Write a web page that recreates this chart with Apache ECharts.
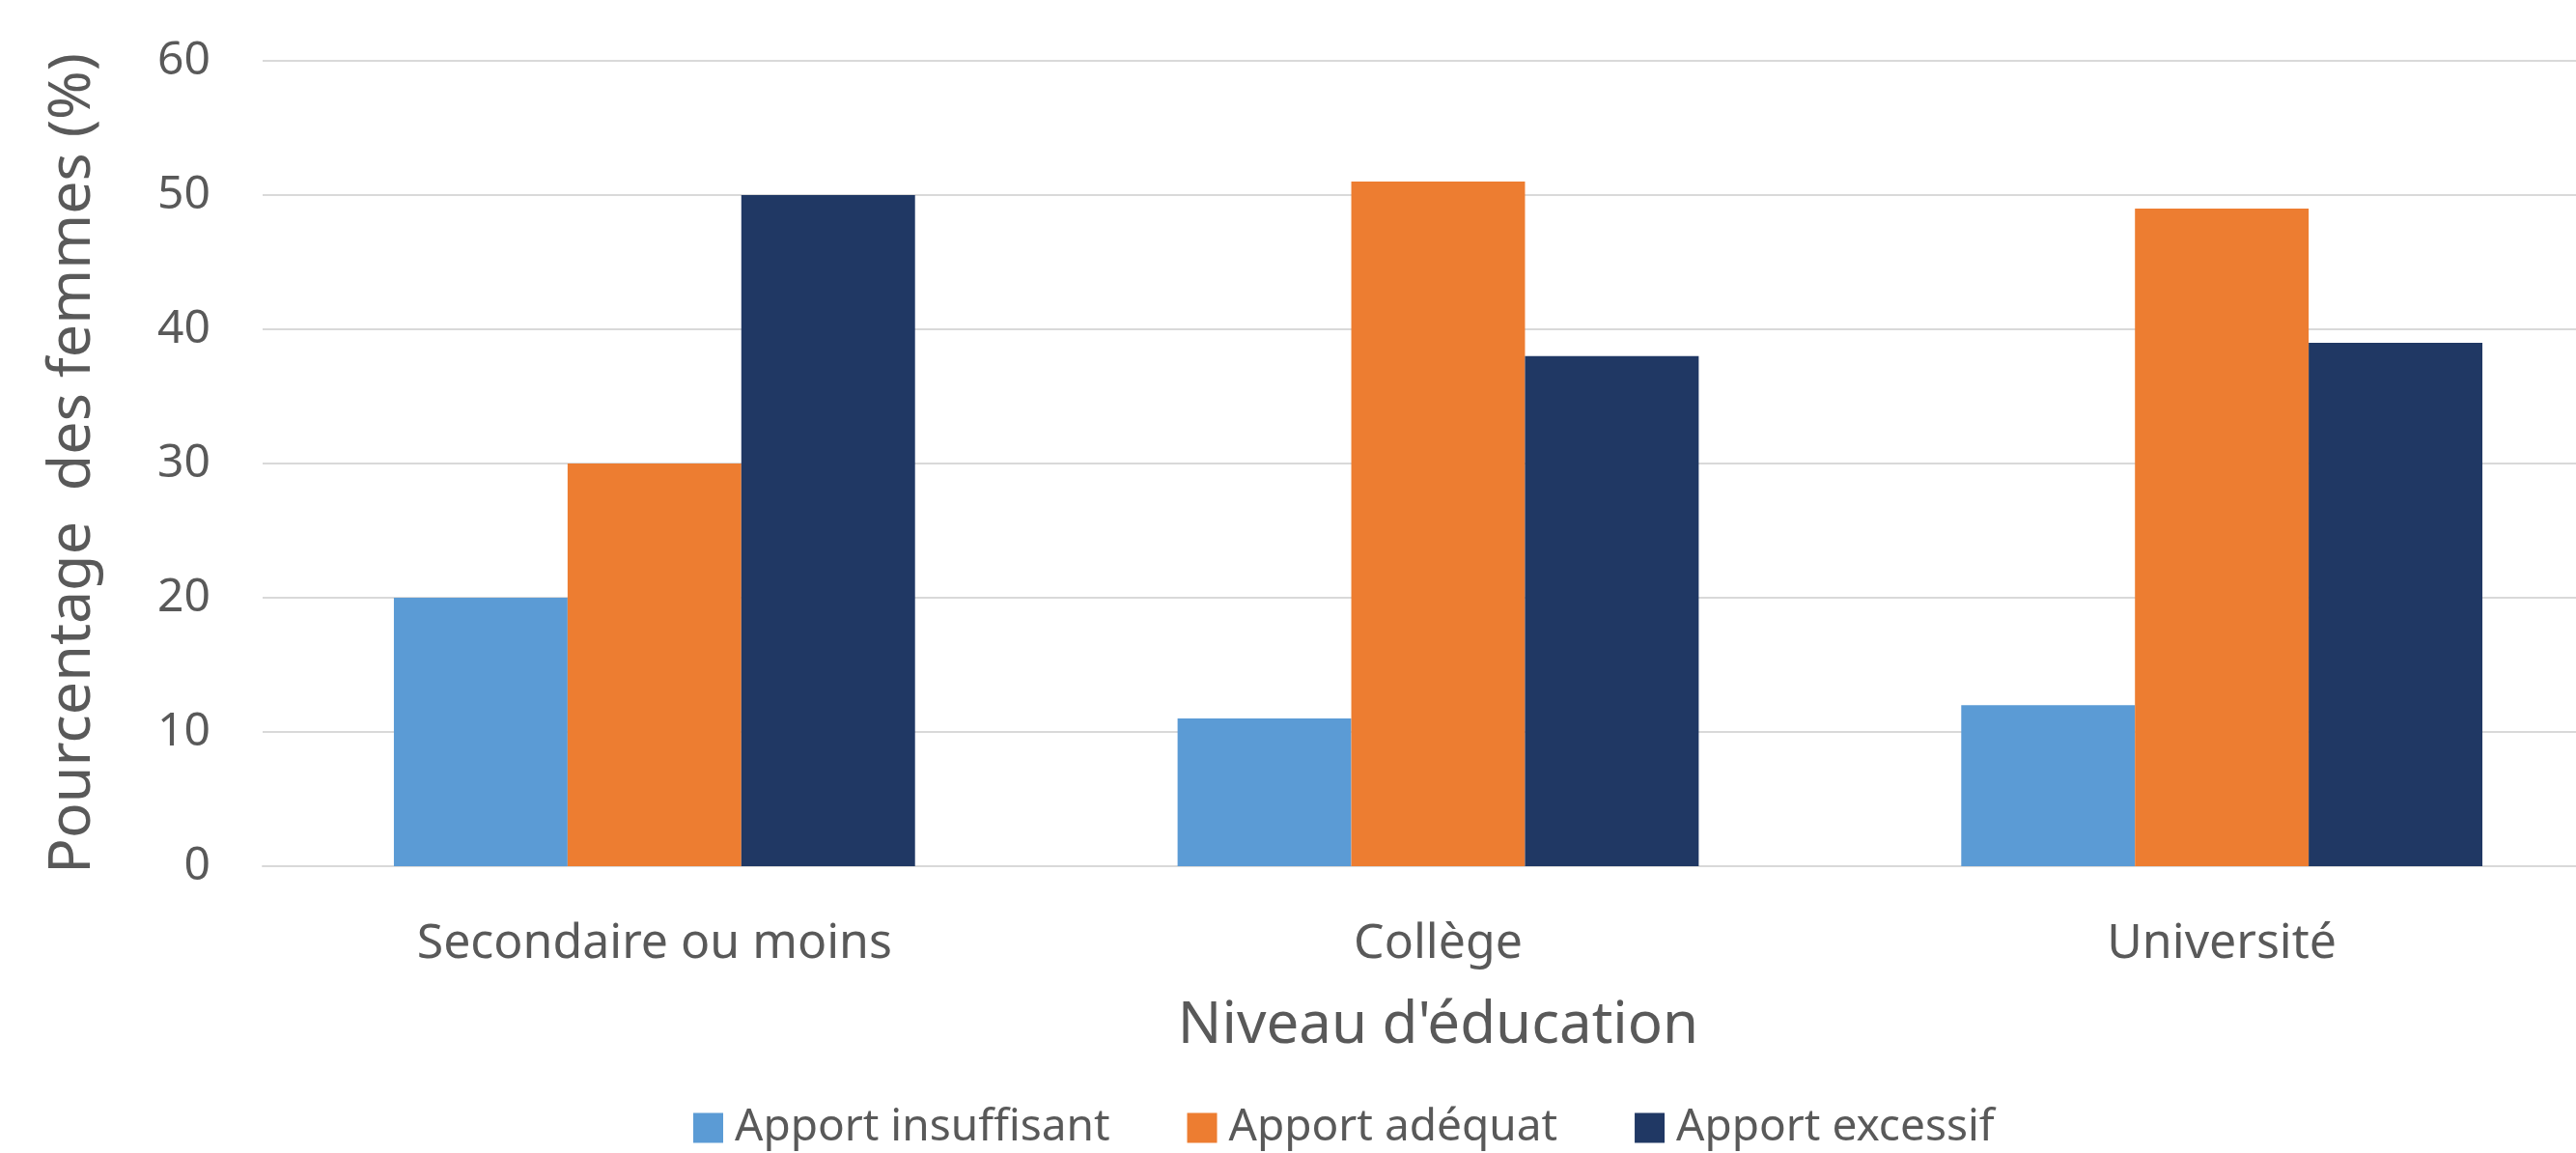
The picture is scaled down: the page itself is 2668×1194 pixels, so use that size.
<!DOCTYPE html>
<html>
<head>
<meta charset="utf-8">
<script src="https://cdn.jsdelivr.net/npm/echarts@6/dist/echarts.min.js"></script>
<style>
  html, body { margin: 0; padding: 0; background: #fff; }
  #chart { width: 2668px; height: 1194px; }
</style>
</head>
<body>
<div id="chart"></div>
<script>
var categories = ['Secondaire ou moins', 'Collège', 'Université'];
var insuffisant = [20, 11, 12];
var adequat = [30, 51, 49];
var excessif = [50, 38, 39];
var seriesNames = ['Apport insuffisant', 'Apport adéquat', 'Apport excessif'];

var textColor = '#595959';
var chart = echarts.init(document.getElementById('chart'));
var option = {
  animation: false,
  color: ['#5b9bd5', '#ed7d31', '#203864'],
  // plot runs past the right edge, like the cropped original
  grid: { left: 272, width: 2435, top: 63, bottom: 297, outerBoundsMode: 'none' },
  legend: {
    data: seriesNames,
    left: 718,
    top: 1145,
    padding: 0,
    itemWidth: 31,
    itemHeight: 31,
    itemGap: 80,
    icon: 'rect',
    textStyle: { fontFamily: 'Noto Sans', fontSize: 46, color: textColor, padding: [0, 0, 0, 7] }
  },
  xAxis: {
    type: 'category',
    data: categories,
    name: "Niveau d'éducation",
    nameLocation: 'middle',
    nameGap: 136,
    nameTextStyle: { fontFamily: 'Noto Sans', fontSize: 60, color: textColor },
    axisLine: { lineStyle: { color: '#d9d9d9', width: 2 } },
    axisTick: { show: false },
    axisLabel: { fontFamily: 'Noto Sans', fontSize: 50, color: textColor, margin: 56 }
  },
  yAxis: {
    type: 'value',
    min: 0,
    max: 60,
    interval: 10,
    name: 'Pourcentage  des femmes (%)',
    nameLocation: 'middle',
    nameGap: 166,
    nameTextStyle: { fontFamily: 'Noto Sans', fontSize: 61, color: textColor },
    axisLabel: { fontFamily: 'Noto Sans', fontSize: 48, color: textColor, margin: 54 },
    splitLine: { lineStyle: { color: '#d9d9d9', width: 2 } }
  },
  series: [
    { name: seriesNames[0], type: 'bar', data: insuffisant, barGap: '0%', barCategoryGap: '33.5%' },
    { name: seriesNames[1], type: 'bar', data: adequat, barGap: '0%', barCategoryGap: '33.5%' },
    { name: seriesNames[2], type: 'bar', data: excessif, barGap: '0%', barCategoryGap: '33.5%' }
  ]
};
option && chart.setOption(option);
</script>
</body>
</html>
